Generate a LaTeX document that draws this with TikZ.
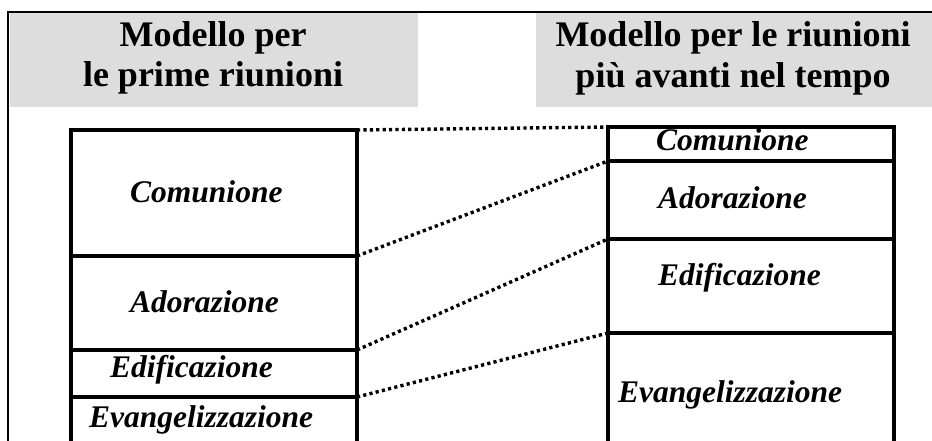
\documentclass[tikz,border=0pt]{standalone}
\usepackage{fontspec}
\setmainfont{Liberation Serif}
\definecolor{hdrgray}{RGB}{221,221,221}
\begin{document}
\begin{tikzpicture}[x=1pt,y=-1pt,
  framestyle/.style={line width=2.6pt},
  cell/.style={draw, line width=4pt, minimum width=286pt, inner sep=0pt, outer sep=0pt},
  link/.style={line width=3.4pt, dash pattern=on 3.2pt off 3.2pt},
  hdr/.style={fill=hdrgray, draw=none},
  ttl/.style={font=\fontsize{36}{40}\selectfont\bfseries, align=center, inner sep=0pt, anchor=base},
  lbl/.style={font=\fontsize{31.5}{36}\selectfont\bfseries\itshape, anchor=base west, inner sep=0pt}]
\path[use as bounding box] (0,0) rectangle (932,441);
\clip (0,0) rectangle (932,441);
% header backgrounds
\fill[hdrgray] (10,13) rectangle (418,107);
\fill[hdrgray] (536,13) rectangle (932,107);
% frame
\draw[framestyle] (8,441) -- (8,12) -- (932,12);
% titles
\node[ttl] (t1a) at (213,47) {Modello per};
\node[ttl] (t1b) at (213,87) {le prime riunioni};
\node[ttl] (t2a) at (733,47) {Modello per le riunioni};
\node[ttl] (t2b) at (733,88) {più avanti nel tempo};
% left column cells
\node[cell, minimum height=126pt] (lcom) at (214,193) {};
\node[cell, minimum height=94pt] (ladr) at (214,303) {};
\node[cell, minimum height=47pt] (ledi) at (214,373.5) {};
\node[cell, minimum height=80pt] (leva) at (214,437) {};
% right column cells
\node[cell, minimum height=34pt] (rcom) at (751,144) {};
\node[cell, minimum height=78pt] (radr) at (751,200) {};
\node[cell, minimum height=94pt] (redi) at (751,286) {};
\node[cell, minimum height=140pt] (reva) at (751,403) {};
% labels
\node[lbl] (lcomt) at (130,202) {Comunione};
\node[lbl] (ladrt) at (130,312) {Adorazione};
\node[lbl] (ledit) at (110,377) {Edificazione};
\node[lbl] (levat) at (89,427) {Evangelizzazione};
\node[lbl] (rcomt) at (656,150) {Comunione};
\node[lbl] (radrt) at (658,208) {Adorazione};
\node[lbl] (redit) at (658,285) {Edificazione};
\node[lbl] (revat) at (618,402) {Evangelizzazione};
% dotted connectors
\draw[link] (lcom.north east) -- (rcom.north west);
\draw[link] (lcom.south east) -- (rcom.south west);
\draw[link] (ladr.south east) -- (radr.south west);
\draw[link] (ledi.south east) -- (redi.south west);
\end{tikzpicture}
\end{document}
